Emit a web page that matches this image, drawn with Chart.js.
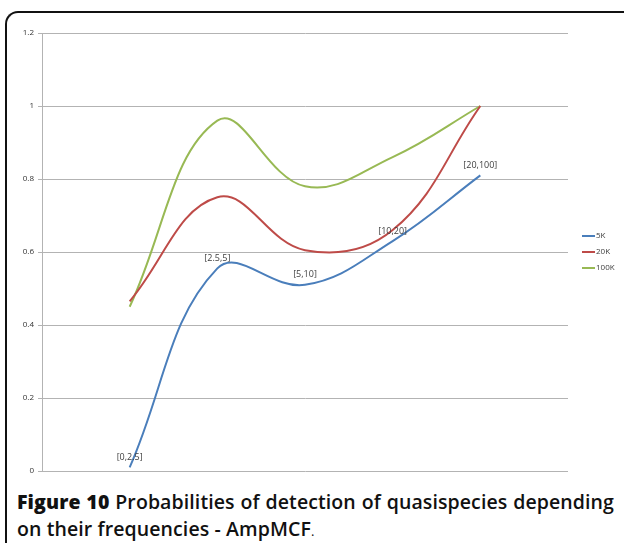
<!DOCTYPE html>
<html>
<head>
<meta charset="utf-8">
<script src="https://cdn.jsdelivr.net/npm/chart.js@4/dist/chart.umd.min.js"></script>
<style>
  html, body { margin: 0; padding: 0; background: #fff; width: 624px; height: 543px; overflow: hidden; }
  #frame { position: absolute; left: 5px; top: 11px; width: 700px; height: 600px;
           border-top: 2px solid #111; border-left: 2px solid #111; border-top-left-radius: 13px; }
  #wrap { position: absolute; left: 0; top: 0; width: 624px; height: 480px; }
  #caption { position: absolute; left: 17px; top: 488px; width: 597px;
             font-family: "Open Sans", "Noto Sans", sans-serif; font-size: 19.5px; line-height: 27px;
             color: #111; font-weight: 600; text-align: justify; letter-spacing: 0.1px; }
  #caption b { font-weight: 800; }
  #caption .end { font-size: 13px; font-weight: 400; }
</style>
</head>
<body>
<div id="frame"></div>
<div id="wrap"><canvas id="c" width="624" height="480"></canvas></div>
<div id="caption"><b>Figure 10</b> Probabilities of detection of quasispecies depending on their frequencies - AmpMCF<span class="end">.</span></div>
<script>
const categories = ["[0,2.5]", "[2.5,5]", "[5,10]", "[10,20]", "[20,100]"];
const seriesNames = ["5K", "20K", "100K"];
const values5K   = [0.01, 0.555, 0.51, 0.63, 0.81];
const values20K  = [0.465, 0.75, 0.605, 0.66, 1.0];
const values100K = [0.45, 0.96, 0.78, 0.86, 1.0];
const yTickLabels = ["0", "0.2", "0.4", "0.6", "0.8", "1", "1.2"];
const colors = ["#4a7ebb", "#be4b48", "#98b954"];

function toPoints(vals) { return vals.map((v, i) => ({ x: i + 1, y: v })); }

const pointLabels = {
  id: "pointLabels",
  afterDatasetsDraw(chart) {
    const ctx = chart.ctx;
    const meta = chart.getDatasetMeta(0);
    ctx.save();
    ctx.font = "9px 'Open Sans', sans-serif";
    ctx.fillStyle = "#404040";
    ctx.textAlign = "center";
    ctx.textBaseline = "middle";
    meta.data.forEach((pt, i) => {
      ctx.fillText(categories[i], pt.x, pt.y - 10);
    });
    ctx.restore();
  }
};

const sideLegend = {
  id: "sideLegend",
  afterDraw(chart) {
    const ctx = chart.ctx;
    const a = chart.chartArea;
    const midY = (a.top + a.bottom) / 2;
    ctx.save();
    ctx.font = "8px 'Open Sans', sans-serif";
    ctx.textBaseline = "middle";
    ctx.textAlign = "left";
    chart.data.datasets.forEach((ds, i) => {
      const y = midY + (i - 1) * 16;
      ctx.strokeStyle = ds.borderColor;
      ctx.lineWidth = 2;
      ctx.beginPath();
      ctx.moveTo(a.right + 14, y);
      ctx.lineTo(a.right + 27, y);
      ctx.stroke();
      ctx.fillStyle = "#404040";
      ctx.fillText(ds.label, a.right + 28, y);
    });
    ctx.restore();
  }
};

new Chart(document.getElementById("c"), {
  type: "line",
  data: {
    datasets: [
      { label: seriesNames[0], data: toPoints(values5K),   borderColor: colors[0] },
      { label: seriesNames[1], data: toPoints(values20K),  borderColor: colors[1] },
      { label: seriesNames[2], data: toPoints(values100K), borderColor: colors[2] }
    ].map(d => Object.assign(d, { borderWidth: 2, pointRadius: 0, tension: 0.4, fill: false, clip: false }))
  },
  options: {
    responsive: false,
    animation: false,
    devicePixelRatio: 1,
    layout: { padding: { left: 0, right: 56, top: 33, bottom: 9 } },
    plugins: { legend: { display: false }, tooltip: { enabled: false } },
    scales: {
      x: { type: "linear", min: 0, max: 6, display: false },
      y: {
        min: 0, max: 1.2,
        afterFit(scale) { scale.width = 42; },
        ticks: {
          stepSize: 0.2,
          padding: 4,
          color: "#333",
          font: { size: 8, family: "'Open Sans', sans-serif" },
          callback: (v, i) => yTickLabels[i]
        },
        grid: { color: "#b3b3b3", lineWidth: 1, tickLength: 4, drawTicks: true },
        border: { color: "#b3b3b3", width: 1 }
      }
    }
  },
  plugins: [pointLabels, sideLegend]
});
</script>
</body>
</html>
